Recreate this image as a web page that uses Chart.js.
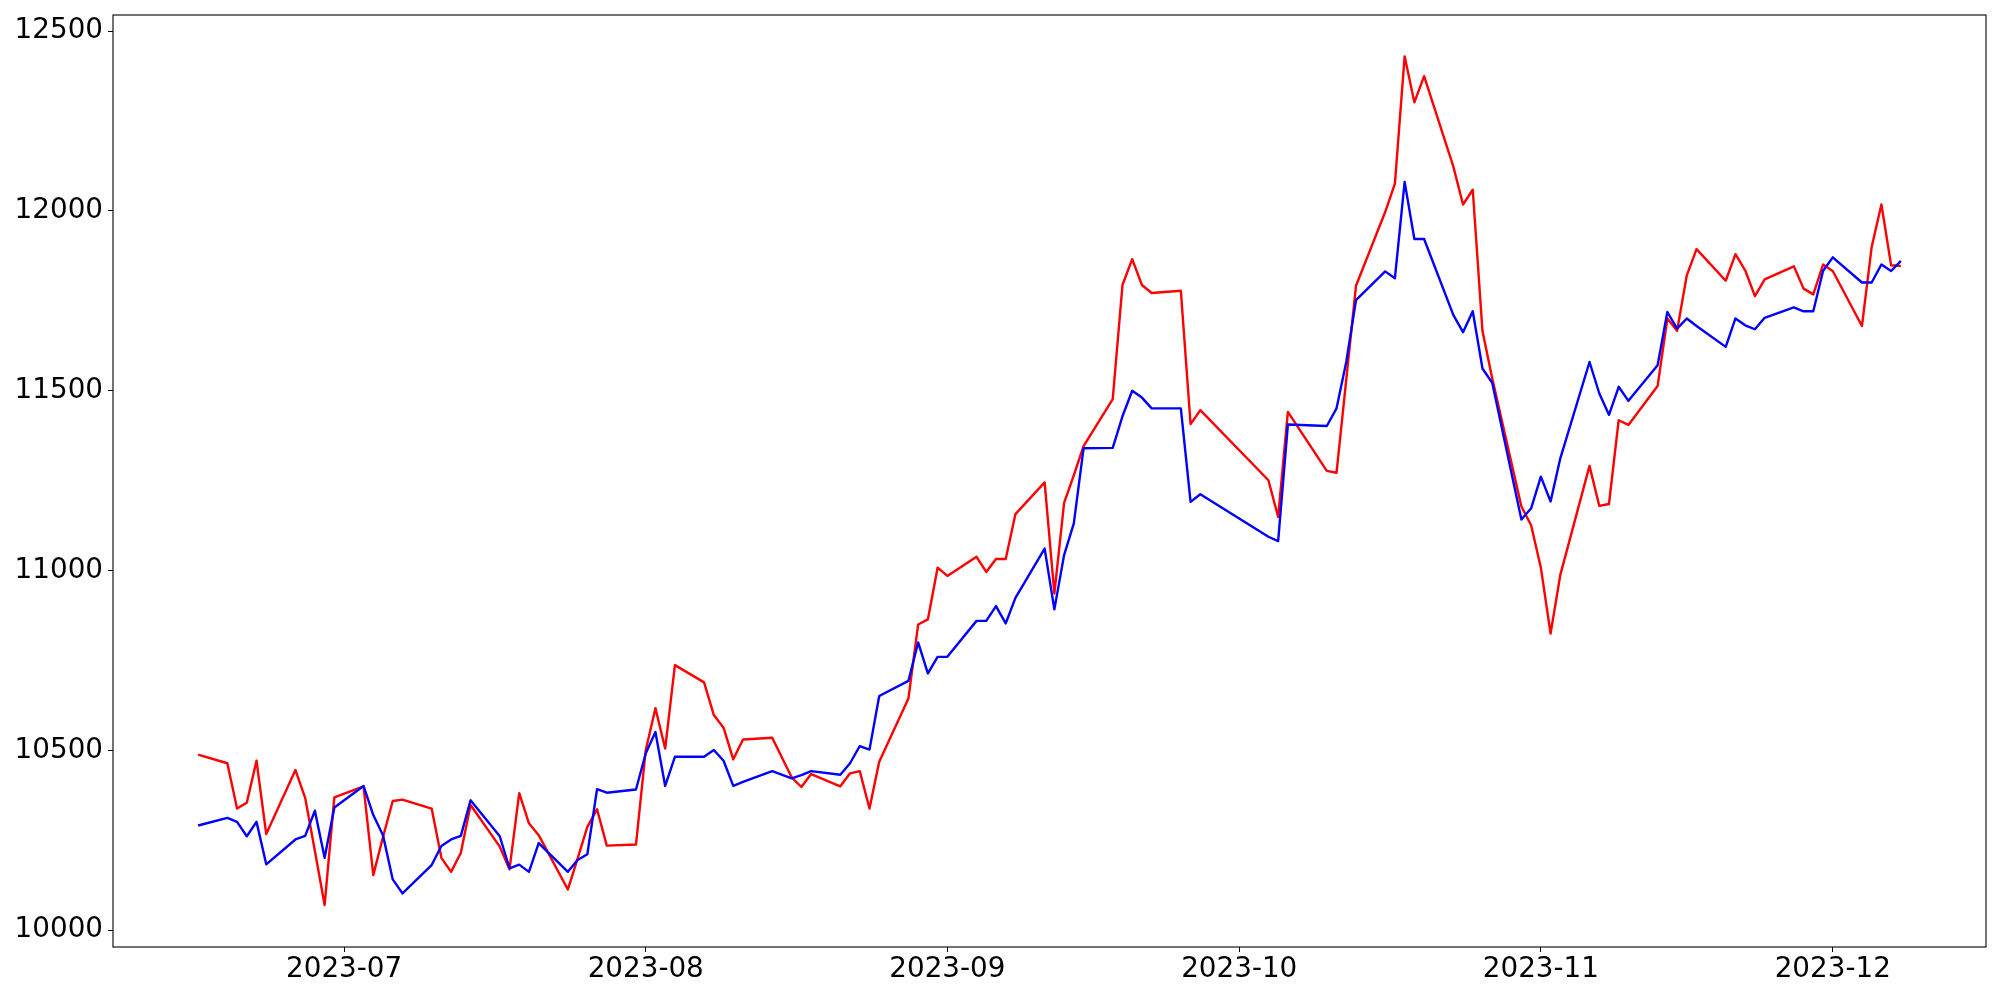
<!DOCTYPE html>
<html>
<head>
<meta charset="utf-8">
<style>
  html, body { margin: 0; padding: 0; background: #fff; }
  #wrap { width: 2000px; height: 1000px; }
</style>
<script src="https://cdn.jsdelivr.net/npm/chart.js@4/dist/chart.umd.min.js"></script>
</head>
<body>
<div id="wrap"><canvas id="chart" width="2000" height="1000"></canvas></div>
<script>
// trading days (weekdays, minus Aug 15, Sep 28-29, Oct 2-3, Oct 9)
const dates = [
  '2023-06-16','2023-06-19','2023-06-20','2023-06-21','2023-06-22','2023-06-23','2023-06-26','2023-06-27','2023-06-28','2023-06-29','2023-06-30',
  '2023-07-03','2023-07-04','2023-07-05','2023-07-06','2023-07-07','2023-07-10','2023-07-11','2023-07-12','2023-07-13','2023-07-14',
  '2023-07-17','2023-07-18','2023-07-19','2023-07-20','2023-07-21','2023-07-24','2023-07-25','2023-07-26','2023-07-27','2023-07-28','2023-07-31',
  '2023-08-01','2023-08-02','2023-08-03','2023-08-04','2023-08-07','2023-08-08','2023-08-09','2023-08-10','2023-08-11','2023-08-14',
  '2023-08-16','2023-08-17','2023-08-18','2023-08-21','2023-08-22','2023-08-23','2023-08-24','2023-08-25','2023-08-28','2023-08-29','2023-08-30','2023-08-31',
  '2023-09-01','2023-09-04','2023-09-05','2023-09-06','2023-09-07','2023-09-08','2023-09-11','2023-09-12','2023-09-13','2023-09-14','2023-09-15',
  '2023-09-18','2023-09-19','2023-09-20','2023-09-21','2023-09-22','2023-09-25','2023-09-26','2023-09-27',
  '2023-10-04','2023-10-05','2023-10-06','2023-10-10','2023-10-11','2023-10-12','2023-10-13','2023-10-16','2023-10-17','2023-10-18','2023-10-19','2023-10-20',
  '2023-10-23','2023-10-24','2023-10-25','2023-10-26','2023-10-27','2023-10-30','2023-10-31',
  '2023-11-01','2023-11-02','2023-11-03','2023-11-06','2023-11-07','2023-11-08','2023-11-09','2023-11-10','2023-11-13','2023-11-14','2023-11-15','2023-11-16','2023-11-17',
  '2023-11-20','2023-11-21','2023-11-22','2023-11-23','2023-11-24','2023-11-27','2023-11-28','2023-11-29','2023-11-30',
  '2023-12-01','2023-12-04','2023-12-05','2023-12-06','2023-12-07','2023-12-08'
];

const redValues = [
  10488,10464,10338,10354,10471,10267,10445,10368,10220,10070,10369,
  10400,10153,10259,10359,10363,10338,10201,10162,10215,10348,
  10232,10169,10381,10297,10264,10113,10199,10287,10336,10235,10238,
  10500,10617,10505,10737,10689,10598,10563,10475,10530,10535,
  10425,10398,10434,10400,10436,10442,10338,10468,10644,10850,10864,11008,
  10985,11038,10996,11032,11032,11157,11245,10936,11188,11265,11346,
  11477,11794,11866,11794,11772,11778,11407,11446,
  11251,11149,11441,11277,11272,11531,11792,11997,12076,12430,12302,12375,
  12124,12018,12059,11666,11535,11178,11126,
  11008,10825,10988,11291,11180,11185,11418,11405,11513,11701,11667,11821,11894,
  11806,11880,11835,11763,11810,11846,11784,11768,11851,
  11833,11680,11900,12018,11849,11847
];

const blueValues = [
  10291,10312,10301,10261,10301,10183,10252,10262,10332,10201,10341,
  10401,10320,10264,10141,10102,10181,10234,10252,10262,10361,
  10261,10172,10182,10162,10242,10162,10195,10211,10392,10382,10391,
  10491,10551,10401,10482,10482,10501,10471,10401,10412,10442,
  10422,10431,10442,10432,10464,10512,10502,10651,10693,10800,10714,10760,
  10760,10860,10860,10901,10853,10924,11061,10892,11043,11131,11340,
  11341,11429,11500,11481,11451,11451,11191,11212,
  11094,11082,11406,11402,11451,11580,11752,11832,11813,12081,11922,11922,
  11711,11663,11721,11562,11522,11142,11173,
  11261,11192,11312,11580,11493,11433,11511,11472,11571,11719,11673,11701,11680,
  11622,11701,11682,11671,11703,11732,11721,11721,11833,
  11871,11801,11801,11851,11833,11861
];

const monthTicks = ['2023-07-01','2023-08-01','2023-09-01','2023-10-01','2023-11-01','2023-12-01'];
const tickLabels = ['2023-07','2023-08','2023-09','2023-10','2023-11','2023-12'];
const yTicks = [10000, 10500, 11000, 11500, 12000, 12500];

function dayNum(s) {
  const [y, m, d] = s.split('-').map(Number);
  return Date.UTC(y, m - 1, d) / 86400000;
}

const xs = dates.map(dayNum);
const span = xs[xs.length - 1] - xs[0];
const X_MIN = xs[0] - 0.05 * span;
const X_MAX = xs[xs.length - 1] + 0.05 * span;
const Y_MIN = 9953, Y_MAX = 12545;

const FONT = { family: 'DejaVu Sans', size: 27.8 };

const frame = {
  id: 'frame',
  afterDatasetsDraw(chart) {
    const { ctx, chartArea: a } = chart;
    ctx.save();
    ctx.strokeStyle = '#000';
    ctx.lineWidth = 1.1;
    ctx.strokeRect(a.left, a.top, a.right - a.left, a.bottom - a.top);
    ctx.restore();
  }
};

new Chart(document.getElementById('chart'), {
  type: 'line',
  data: {
    datasets: [
      { label: 'blue', data: xs.map((x, i) => ({ x, y: blueValues[i] })), borderColor: '#0000ff', order: 0 },
      { label: 'red', data: xs.map((x, i) => ({ x, y: redValues[i] })), borderColor: '#ff0000', order: 1 }
    ]
  },
  options: {
    responsive: false,
    devicePixelRatio: 1,
    animation: false,
    elements: { line: { borderWidth: 2.4, tension: 0, fill: false, borderJoinStyle: 'round' }, point: { radius: 0 } },
    layout: { padding: { top: 15, right: 14, left: 0, bottom: 0 } },
    plugins: { legend: { display: false }, tooltip: { enabled: false } },
    scales: {
      x: {
        type: 'linear', min: X_MIN, max: X_MAX,
        border: { display: false },
        grid: { drawOnChartArea: false, drawTicks: true, tickLength: 5, color: '#000', lineWidth: 1 },
        ticks: { color: '#000', font: FONT, padding: 1, maxRotation: 0, autoSkip: false,
                 callback: (v, i) => tickLabels[i] },
        afterBuildTicks: s => { s.ticks = monthTicks.map(t => ({ value: dayNum(t) })); },
        afterFit: s => { s.height = 53; s.paddingLeft = 0; s.paddingRight = 0; }
      },
      y: {
        min: Y_MIN, max: Y_MAX,
        border: { display: false },
        grid: { drawOnChartArea: false, drawTicks: true, tickLength: 5, color: '#000', lineWidth: 1 },
        ticks: { color: '#000', font: FONT, padding: 5, callback: v => String(v) },
        afterBuildTicks: s => { s.ticks = yTicks.map(v => ({ value: v })); },
        afterFit: s => { s.width = 113; s.paddingTop = 0; s.paddingBottom = 0; }
      }
    }
  },
  plugins: [frame]
});
</script>
</body>
</html>
